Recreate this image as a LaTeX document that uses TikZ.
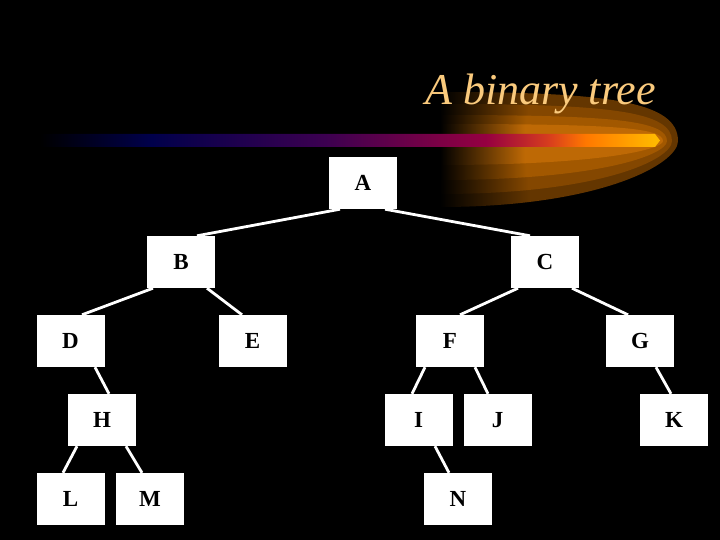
\documentclass[tikz,border=0pt]{standalone}
\usepackage{fontspec}
\setmainfont{Liberation Serif}
\usetikzlibrary{positioning}

\definecolor{titlecol}{RGB}{250,202,125}
\definecolor{barnavy}{RGB}{0,0,75}
\definecolor{barpurple}{RGB}{60,0,80}
\definecolor{barcrimson}{RGB}{150,0,65}
\definecolor{barred}{RGB}{215,60,30}
\definecolor{barorange}{RGB}{255,120,0}
\definecolor{baryellow}{RGB}{255,185,0}
\colorlet{glowcol}{black}

\pgfdeclarehorizontalshading{barshade}{100bp}{color(0bp)=(black); color(25bp)=(black);
  color(34bp)=(barnavy); color(48bp)=(barpurple); color(61bp)=(barcrimson);
  color(66bp)=(barred); color(69bp)=(barorange); color(74.6bp)=(baryellow); color(100bp)=(baryellow)}
\pgfdeclarehorizontalshading[glowcol]{glowshade}{100bp}{color(0bp)=(black); color(25bp)=(black);
  color(44bp)=(glowcol); color(100bp)=(glowcol)}

\begin{document}
\begin{tikzpicture}[
        x=1pt, y=-1pt,
        treenode/.style={fill=white, inner sep=0pt, minimum width=68pt, minimum height=52pt,
          font=\bfseries\fontsize{23}{23}\selectfont},
        edge/.style={draw=white, line width=2.8pt}
    ]

    % Background
    \fill[black] (0,0) rectangle (720,540);

    % Glow behind the title
    \foreach \t/\b/\x/\col in {92/207/678/{rgb,255:red,100;green,54;blue,0},
                               104/194/672/{rgb,255:red,132;green,71;blue,0},
                               115/180/667/{rgb,255:red,162;green,88;blue,0},
                               124/165/663/{rgb,255:red,190;green,105;blue,5}} {
      \colorlet{glowcol}{\col}
      \shade[shading=glowshade] (440,\t) .. controls (610,\t) and (\x,{\t+0.2*(141-\t)}) .. (\x,141)
        .. controls (\x,{141+0.35*(\b-141)}) and (600,\b) .. (440,\b) -- cycle;
    }

    % Bar
    \shade[shading=barshade] (40,147) -- (655,147) -- (660,140.5) -- (655,134) -- (40,134) -- cycle;

    % Title
    \node[anchor=base west, inner sep=0pt, text=titlecol, font=\itshape\fontsize{44}{44}\selectfont]
      (title) at (425,105) {A binary tree};

    % Nodes
    \node[treenode] (A) at (363,183) {A};
    \node[treenode] (B) at (181,262) {B};
    \node[treenode] (C) at (545,262) {C};
    \node[treenode] (D) at (70.5,341) {D};
    \node[treenode] (E) at (252.5,341) {E};
    \node[treenode] (F) at (450,341) {F};
    \node[treenode] (G) at (640,341) {G};
    \node[treenode] (H) at (102,420) {H};
    \node[treenode] (I) at (418.5,420) {I};
    \node[treenode] (J) at (497.5,420) {J};
    \node[treenode] (K) at (674,420) {K};
    \node[treenode] (L) at (70.5,499) {L};
    \node[treenode] (M) at (150,499) {M};
    \node[treenode] (N) at (458,499) {N};

    % Edges
    \foreach \p/\ps/\c/\cs in {A/-23/B/16, A/22/C/-15, B/-28/D/11.5, B/26/E/-10.5,
                               C/-27/F/10, C/27/G/-12, D/24.5/H/7, H/-25/L/-7.5,
                               H/24/M/-8, F/-25/I/-6.5, F/25/J/-9.5, G/16/K/-3, I/16.5/N/-9}
      \draw[edge] ([xshift=\ps pt]\p.south) -- ([xshift=\cs pt]\c.north);

\end{tikzpicture}
\end{document}
